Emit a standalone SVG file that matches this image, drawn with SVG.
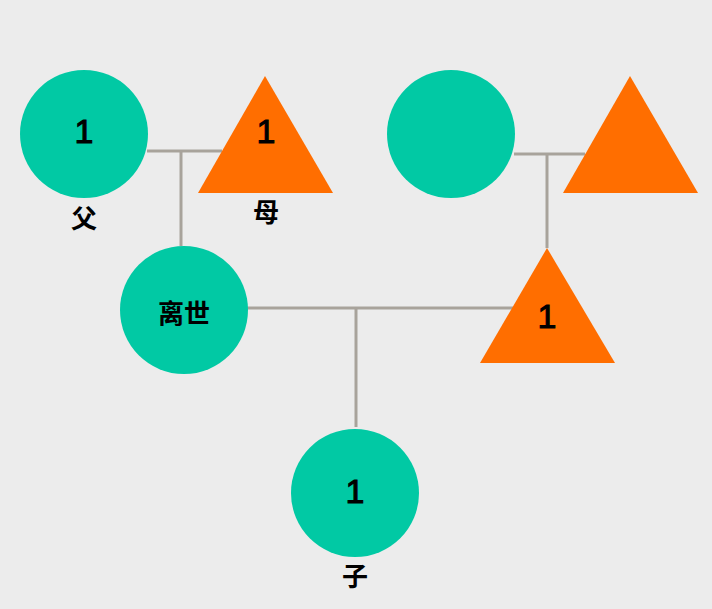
<svg xmlns="http://www.w3.org/2000/svg" width="712" height="609" viewBox="0 0 712 609">
<style>
.f{fill:#01C9A4}
.m{fill:#FF6E00}
.l{stroke:#A8A39B;stroke-width:3;fill:none}
.n{font-family:"Liberation Sans",Arial,sans-serif;font-size:34px;fill:#000;stroke:#000;stroke-width:1;text-anchor:middle}
.c{font-family:"Noto Sans CJK SC","Noto Sans CJK JP",sans-serif;font-size:26px;font-weight:bold;fill:#000;text-anchor:middle}
</style>
<rect width="712" height="609" fill="#ECECEC"/>
<g id="connectors">
<path class="l" d="M147 151H222M181 152V246"/>
<path class="l" d="M514 154H585M547 155V248"/>
<path class="l" d="M247 308H513M356 308V427"/>
</g>
<g id="father"><circle class="f" cx="84" cy="134" r="64"/><text class="n" x="84" y="143">1</text><text class="c" x="84" y="228">父</text></g>
<g id="mother"><polygon class="m" points="265,76 198,193 333,193"/><text class="n" x="266" y="143">1</text><text class="c" x="266" y="222">母</text></g>
<g id="circle2"><circle class="f" cx="451" cy="134" r="64"/></g>
<g id="triangle2"><polygon class="m" points="630,76 563,193 698,193"/></g>
<g id="deceased"><circle class="f" cx="184" cy="310" r="64"/><text class="c" x="184" y="323">离世</text></g>
<g id="triangle3"><polygon class="m" points="547,248 480,363 615,363"/><text class="n" x="547" y="328">1</text></g>
<g id="child"><circle class="f" cx="355" cy="493" r="64"/><text class="n" x="355" y="503">1</text><text class="c" x="355" y="586">子</text></g>
</svg>
